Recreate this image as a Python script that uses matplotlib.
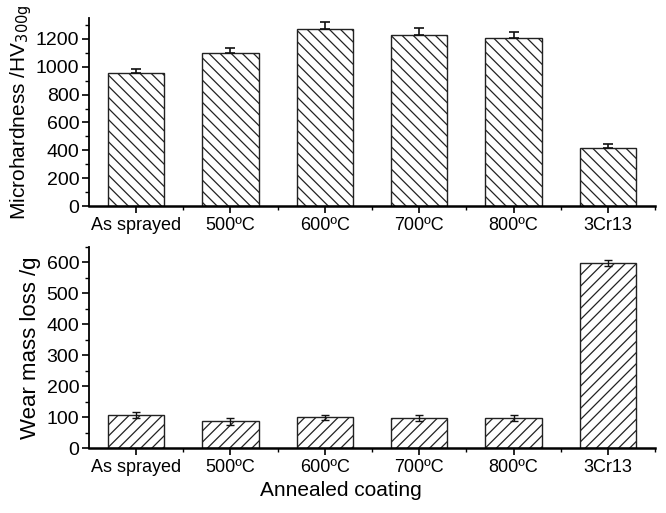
import matplotlib.pyplot as plt
from matplotlib.ticker import MultipleLocator

plt.rcParams['font.family'] = ['Liberation Sans', 'DejaVu Sans']
plt.rcParams['hatch.linewidth'] = 0.9

# data
labels = ['As sprayed', '500ºC', '600ºC', '700ºC', '800ºC', '3Cr13']
hardness = [957, 1097, 1270, 1227, 1210, 417]
hardness_err = [30, 40, 50, 50, 40, 30]
wear = [108, 86, 99, 97, 97, 598]
wear_err = [10, 10, 9, 9, 10, 10]

x = list(range(1, len(labels) + 1))

fig = plt.figure(figsize=(6.66, 5.13), dpi=100)
ax1 = fig.add_axes([0.1336, 0.5984, 0.8499, 0.3665])
ax2 = fig.add_axes([0.1336, 0.1267, 0.8499, 0.3918])


def style(ax):
    for s in ['top', 'right']:
        ax.spines[s].set_visible(False)
    ax.spines['left'].set_linewidth(1.3)
    ax.spines['bottom'].set_linewidth(1.8)
    ax.set_xlim(0.5, 6.5)
    ax.set_xticks(x)
    ax.set_xticklabels(labels)
    ax.set_xticks([1.5, 2.5, 3.5, 4.5, 5.5, 6.5], minor=True)
    ax.tick_params(axis='x', which='major', labelsize=13, pad=3)
    ax.tick_params(axis='y', which='major', labelsize=14, pad=2)
    ax.tick_params(axis='both', which='major', direction='out', length=5, width=1.2)
    ax.tick_params(axis='both', which='minor', direction='out', length=3, width=1.0)


ax1.bar(x, hardness, width=0.6, color='white', edgecolor='#222222', linewidth=1.0, hatch='\\\\\\', zorder=2)
ax1.errorbar(x, hardness, yerr=[[0] * 6, hardness_err], fmt='none', ecolor='#111111', elinewidth=1.2, capsize=3.5, capthick=1.2, zorder=3)
style(ax1)
ax1.set_ylim(0, 1350)
ax1.yaxis.set_major_locator(MultipleLocator(200))
ax1.yaxis.set_minor_locator(MultipleLocator(100))
ax1.set_ylabel('Microhardness /HV$_{300\\mathrm{g}}$', fontsize=15, labelpad=1)

ax2.bar(x, wear, width=0.6, color='white', edgecolor='#222222', linewidth=1.0, hatch='///', zorder=2)
ax2.errorbar(x, wear, yerr=wear_err, fmt='none', ecolor='#111111', elinewidth=1.0, capsize=3, capthick=1.0, zorder=3)
style(ax2)
ax2.set_ylim(0, 650)
ax2.yaxis.set_major_locator(MultipleLocator(100))
ax2.yaxis.set_minor_locator(MultipleLocator(50))
ax2.set_ylabel('Wear mass loss /g', fontsize=16, labelpad=4)
fig.text(341 / 666, 1 - 490 / 513, 'Annealed coating', fontsize=15, ha='center', va='center')

fig.savefig('out.png', dpi=100)
